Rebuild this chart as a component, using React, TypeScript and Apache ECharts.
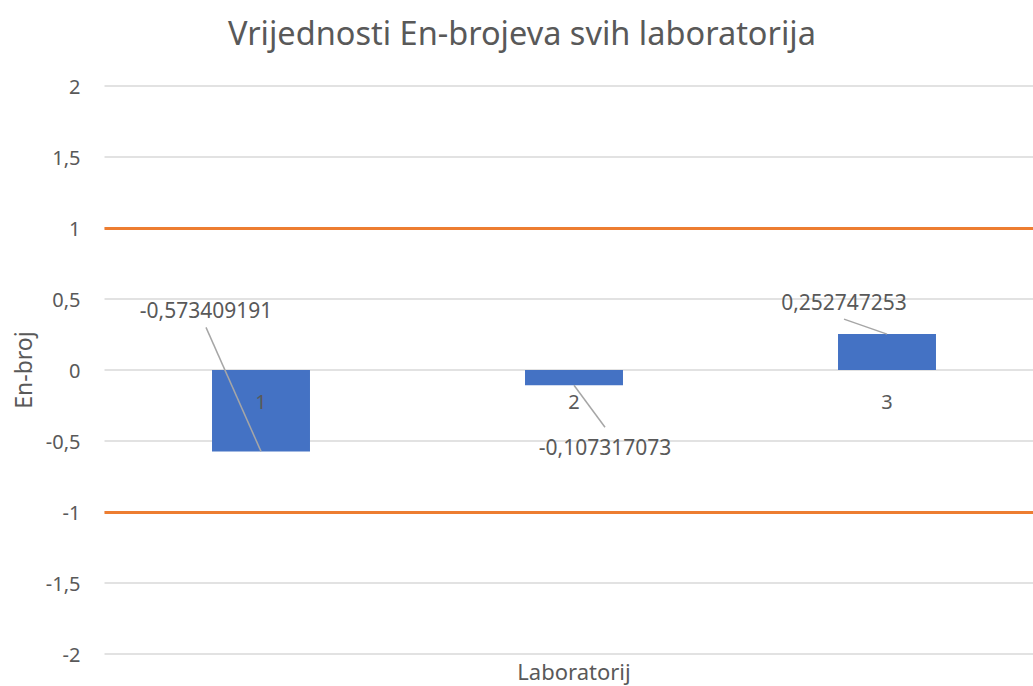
import React, { useEffect, useRef } from "react";
import * as echarts from "echarts";

const categories = ["1", "2", "3"];
const enValues = [-0.573409191, -0.107317073, 0.252747253];
const limitLines = [1, -1];
const yTicks = { min: -2, max: 2, interval: 0.5 };

// label placement relative to bar end (pixels) - style only
const labelOffsets = [
  [-55, -141, 17],
  [31, 62, -20],
  [-43, -32, 17],
];

const FONT = "'Noto Sans', 'Open Sans', sans-serif";
const TEXT = "#595959";

const fmt = (v: number) => String(v).replace(".", ",");

export default function App() {
  const ref = useRef<HTMLDivElement>(null);
  useEffect(() => {
    if (!ref.current) return;
    const chart = echarts.init(ref.current, undefined, { renderer: "svg" });
    chart.setOption({
      animation: false,
      backgroundColor: "#ffffff",
      textStyle: { fontFamily: FONT },
      title: {
        text: "Vrijednosti En-brojeva svih laboratorija",
        left: 223,
        top: 11,
        textStyle: { fontFamily: FONT, fontSize: 32.5, fontWeight: "normal", color: TEXT },
      },
      grid: { left: 104.5, right: -10.5, top: 86, bottom: 32, containLabel: false, outerBoundsMode: "none" },
      xAxis: {
        type: "category",
        data: categories,
        position: "bottom",
        z: 4,
        name: "Laboratorij",
        nameLocation: "middle",
        nameGap: 5,
        nameTextStyle: { fontSize: 22, color: TEXT, fontFamily: FONT },
        axisLine: { show: false, onZero: false },
        axisTick: { show: false },
        axisLabel: { fontSize: 20, color: TEXT, margin: -263, fontFamily: FONT },
      },
      yAxis: {
        type: "value",
        min: yTicks.min,
        max: yTicks.max,
        interval: yTicks.interval,
        name: "En-broj",
        nameLocation: "middle",
        nameGap: 70,
        nameTextStyle: { fontSize: 23, color: TEXT, fontFamily: FONT },
        axisLine: { show: false },
        axisTick: { show: false },
        axisLabel: { fontSize: 20, color: TEXT, margin: 24, fontFamily: FONT, formatter: (v: number) => fmt(v) },
        splitLine: { lineStyle: { color: "#d9d9d9", width: 1.5 } },
      },
      series: [
        {
          type: "bar",
          data: enValues,
          barWidth: "31.3%",
          itemStyle: { color: "#4472C4" },
          markLine: {
            silent: true,
            symbol: "none",
            label: { show: false },
            lineStyle: { color: "#ED7D31", width: 3, type: "solid" },
            data: limitLines.map((y) => ({ yAxis: y })),
          },
          z: 2,
        },
        {
          type: "custom",
          data: enValues.map((v, i) => [i, v]),
          z: 5,
          renderItem: (params: any, api: any) => {
            const i = params.dataIndex;
            const end = api.coord([api.value(0), api.value(1)]);
            const off = labelOffsets[i];
            const cx = end[0] + off[0];
            const cy = end[1] + off[1];
            return {
              type: "group",
              children: [
                {
                  type: "line",
                  shape: { x1: cx, y1: cy + off[2], x2: end[0], y2: end[1] },
                  style: { stroke: "#a6a6a6", lineWidth: 1.5 },
                },
                {
                  type: "text",
                  style: {
                    x: cx,
                    y: cy,
                    text: fmt(enValues[i]),
                    align: "center",
                    verticalAlign: "middle",
                    fontSize: 21,
                    fontFamily: FONT,
                    fill: TEXT,
                  },
                },
              ],
            };
          },
        },
      ],
    });
    return () => chart.dispose();
  }, []);
  return <div ref={ref} style={{ position: "fixed", left: 0, top: 0, width: 1033, height: 686 }} />;
}
